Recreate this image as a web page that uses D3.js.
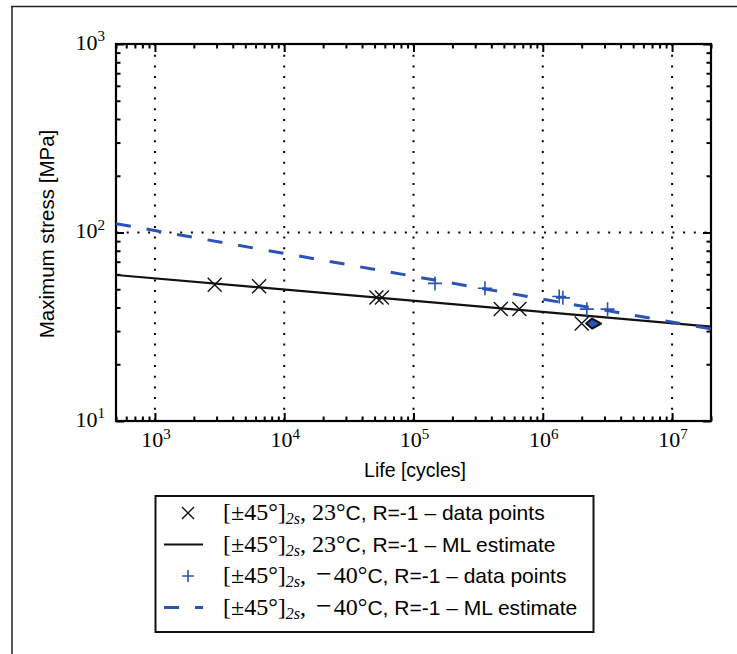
<!DOCTYPE html>
<html>
<head>
<meta charset="utf-8">
<script src="https://cdn.jsdelivr.net/npm/d3@7"></script>
<style>
  html, body { margin: 0; padding: 0; background: #fff; }
  svg { display: block; }
</style>
</head>
<body>
<svg id="chart" width="737" height="654"></svg>
<script>
// S-N data: life in cycles, maximum stress in MPa
const rt23Life   = [2900, 6400, 51700, 57000, 473000, 659000, 2000000];
const rt23Stress = [52.8, 51.8, 45.2, 45.2, 39.3, 39.3, 32.9];
const rt23RunoutLife   = [2450000];
const rt23RunoutStress = [32.9];

const cold40Life   = [146600, 357000, 1340000, 1430000, 2190000, 3170000];
const cold40Stress = [53.7, 50.6, 45.8, 45.0, 39.2, 39.2];

// ML estimate lines, given at the ends of the plotted life range
const fitLife       = [500, 2e7];
const rt23FitStress = [59.5, 31.7];
const cold40FitStress = [111.4, 30.8];

const xMajor = [1e3, 1e4, 1e5, 1e6, 1e7];
const xMajorExp = ["3", "4", "5", "6", "7"];
const yMajor = [10, 100, 1000];
const yMajorExp = ["1", "2", "3"];

const legendSign  = ["", "", "\u2212", "\u2212"];
const legendTemp  = ["23", "23", "40", "40"];
const legendTail  = [
  "C, R=-1 \u2013 data points",
  "C, R=-1 \u2013 ML estimate",
  "C, R=-1 \u2013 data points",
  "C, R=-1 \u2013 ML estimate"
];

const BLUE = "#2b52b5";
const SERIF = "'Liberation Serif', 'DejaVu Serif', serif";
const SANS = "'Liberation Sans', Arial, sans-serif";

const svg = d3.select("#chart");

// page frame
svg.append("line").attr("x1", 11).attr("x2", 737).attr("y1", 6.5).attr("y2", 6.5)
  .attr("stroke", "#222").attr("stroke-width", 1.5);
svg.append("line").attr("x1", 12).attr("x2", 12).attr("y1", 6).attr("y2", 654)
  .attr("stroke", "#222").attr("stroke-width", 1.5);

const L = 116, R = 711, T = 44, B = 421;
const x = d3.scaleLog().domain([500, 2e7]).range([L, R]);
const y = d3.scaleLog().domain([10, 1000]).range([B, T]);

// minor ticks from the log scales
const xMinor = x.ticks().filter(v => !xMajor.includes(v));
const yMinor = y.ticks().filter(v => !yMajor.includes(v));

const g = svg.append("g");

// dotted grid on major decades
g.append("g").selectAll("line").data(xMajor).join("line")
  .attr("x1", d => x(d)).attr("x2", d => x(d)).attr("y1", T).attr("y2", B)
  .attr("stroke", "#000").attr("stroke-width", 2).attr("stroke-dasharray", "2,8.7");
g.append("g").selectAll("line").data([100]).join("line")
  .attr("x1", L).attr("x2", R).attr("y1", d => y(d)).attr("y2", d => y(d))
  .attr("stroke", "#000").attr("stroke-width", 2).attr("stroke-dasharray", "2,8.7");

// inward ticks on all four sides
function styleAxis(sel) {
  sel.select(".domain").remove();
  sel.selectAll(".tick line").attr("stroke", "#000").attr("stroke-width", 2);
  sel.selectAll(".tick text").remove();
}
const axes = [
  [d3.axisBottom, `translate(0,${B})`, x, xMajor, xMinor],
  [d3.axisTop, `translate(0,${T})`, x, xMajor, xMinor],
  [d3.axisLeft, `translate(${L},0)`, y, yMajor, yMinor],
  [d3.axisRight, `translate(${R},0)`, y, yMajor, yMinor]
];
axes.forEach(([fn, tr, sc, maj, min]) => {
  g.append("g").attr("transform", tr)
    .call(fn(sc).tickValues(maj).tickSize(-8).tickFormat(""))
    .call(styleAxis);
  g.append("g").attr("transform", tr)
    .call(fn(sc).tickValues(min).tickSize(-4.5).tickFormat(""))
    .call(styleAxis);
});

// axes frame
g.append("rect").attr("x", L).attr("y", T).attr("width", R - L).attr("height", B - T)
  .attr("fill", "none").attr("stroke", "#000").attr("stroke-width", 2.2);

// tick labels as 10 with superscript exponent
const xl = g.append("g");
xMajor.forEach((v, i) => {
  const t = xl.append("text").attr("x", x(v) + 1).attr("y", 447)
    .attr("text-anchor", "middle").attr("font-family", SERIF).attr("fill", "#000");
  t.append("tspan").attr("font-size", 22).text("10");
  t.append("tspan").attr("font-size", 15).attr("dy", -8.5).text(xMajorExp[i]);
});
const yl = g.append("g");
yMajor.forEach((v, i) => {
  const t = yl.append("text").attr("x", 105).attr("y", y(v) + 5.5)
    .attr("text-anchor", "end").attr("font-family", SERIF).attr("fill", "#000");
  t.append("tspan").attr("font-size", 22).text("10");
  t.append("tspan").attr("font-size", 15).attr("dy", -8.5).text(yMajorExp[i]);
});

// axis titles
svg.append("text").attr("x", 415).attr("y", 477).attr("text-anchor", "middle")
  .attr("font-family", SANS).attr("font-size", 19.5).text("Life [cycles]");
svg.append("text").attr("transform", "translate(54,234) rotate(-90)")
  .attr("text-anchor", "middle").attr("font-family", SANS).attr("font-size", 20.5)
  .text("Maximum stress [MPa]");

// clip to plot area
svg.append("clipPath").attr("id", "plotclip").append("rect")
  .attr("x", L).attr("y", T).attr("width", R - L).attr("height", B - T);
const plot = svg.append("g").attr("clip-path", "url(#plotclip)");

const line = d3.line().x(d => x(d[0])).y(d => y(d[1]));

plot.append("path").datum(d3.zip(fitLife, rt23FitStress)).attr("d", line)
  .attr("fill", "none").attr("stroke", "#111").attr("stroke-width", 2.2);
plot.append("path").datum(d3.zip(fitLife, cold40FitStress)).attr("d", line)
  .attr("fill", "none").attr("stroke", BLUE).attr("stroke-width", 3)
  .attr("stroke-dasharray", "15,16");

// markers
const crossPath = "M-7,-7L7,7M-7,7L7,-7";
const plusPath = "M-7,0L7,0M0,-7L0,7";

plot.append("g").selectAll("path").data(d3.zip(rt23Life, rt23Stress)).join("path")
  .attr("transform", d => `translate(${x(d[0])},${y(d[1])})`)
  .attr("d", crossPath).attr("stroke", "#111").attr("stroke-width", 1.4).attr("fill", "none");

plot.append("g").selectAll("path").data(d3.zip(cold40Life, cold40Stress)).join("path")
  .attr("transform", d => `translate(${x(d[0])},${y(d[1])})`)
  .attr("d", plusPath).attr("stroke", BLUE).attr("stroke-width", 1.6).attr("fill", "none");

// run-out marker
plot.append("g").selectAll("path").data(d3.zip(rt23RunoutLife, rt23RunoutStress)).join("path")
  .attr("transform", d => `translate(${x(d[0])},${y(d[1])})`)
  .attr("d", "M-7,0L-1,-5L8,0L-1,5Z")
  .attr("stroke", "#111").attr("stroke-width", 2).attr("fill", BLUE)
  .attr("stroke-linejoin", "round");

// legend
const lg = svg.append("g");
lg.append("rect").attr("x", 155.5).attr("y", 496).attr("width", 438).attr("height", 136)
  .attr("fill", "#fff").attr("stroke", "#111").attr("stroke-width", 2);

const rowY = [513, 544.5, 576, 607.5];
lg.append("path").attr("transform", `translate(188,${rowY[0]})`)
  .attr("d", "M-6,-6L6,6M-6,6L6,-6").attr("stroke", "#111").attr("stroke-width", 1.4);
lg.append("line").attr("x1", 164).attr("x2", 203).attr("y1", rowY[1]).attr("y2", rowY[1])
  .attr("stroke", "#111").attr("stroke-width", 2.2);
lg.append("path").attr("transform", `translate(188,${rowY[2]})`)
  .attr("d", "M-6,0L6,0M0,-6L0,6").attr("stroke", BLUE).attr("stroke-width", 1.6);
lg.append("line").attr("x1", 164).attr("x2", 203).attr("y1", rowY[3]).attr("y2", rowY[3])
  .attr("stroke", BLUE).attr("stroke-width", 3).attr("stroke-dasharray", "15,16");

legendTemp.forEach((temp, i) => {
  const t = lg.append("text").attr("x", 223).attr("y", rowY[i] + 7).attr("fill", "#000");
  t.append("tspan").attr("font-family", SERIF).attr("font-size", 24).text("[\u00b145\u00b0]");
  t.append("tspan").attr("font-family", SERIF).attr("font-style", "italic")
    .attr("font-size", 16).attr("dy", 4).text("2s");
  t.append("tspan").attr("font-family", SERIF).attr("font-size", 24).attr("dy", -4).text(",");
  if (legendSign[i]) {
    t.append("tspan").attr("font-family", SERIF).attr("font-size", 28).attr("dx", 10)
      .text(legendSign[i]);
    t.append("tspan").attr("font-family", SERIF).attr("font-size", 24).attr("dx", 2)
      .text(temp + "\u00b0");
  } else {
    t.append("tspan").attr("font-family", SERIF).attr("font-size", 24).attr("dx", 6)
      .text(temp + "\u00b0");
  }
  t.append("tspan").attr("font-family", SANS).attr("font-size", 21).text(legendTail[i]);
});
</script>
</body>
</html>
